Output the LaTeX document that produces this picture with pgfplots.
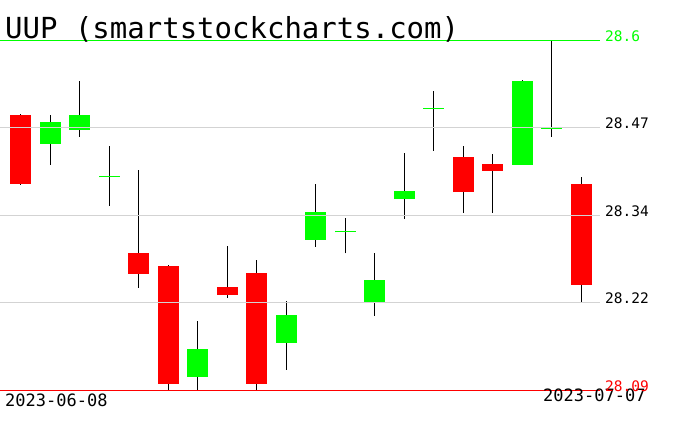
\documentclass[border=0pt]{standalone}
\usepackage{fontspec}
\setmainfont{DejaVu Sans Mono}
\usepackage{pgfplots}
\usepackage{pgfplotstable}
\pgfplotsset{compat=1.18}
\definecolor{gridgray}{RGB}{211,211,211}

% daily candles, x = trading day 1..20
\pgfplotstableread{
x  open    high    low     close
1  28.4907 28.4920 28.3890 28.3902
5  28.2896 28.4106 28.2391 28.2595
6  28.2707 28.2722 28.0900 28.0992
8  28.2401 28.2998 28.2245 28.2289
9  28.2605 28.2794 28.0900 28.0992
16 28.4300 28.4455 28.3484 28.3785
17 28.4193 28.4339 28.3484 28.4096
20 28.3906 28.4004 28.2187 28.2434
}\redtab

\pgfplotstableread{
x  open    high    low     close
2  28.4489 28.4907 28.4183 28.4805
3  28.4693 28.5403 28.4591 28.4907
4  28.4000 28.4455 28.3586 28.4000
7  28.1094 28.1906 28.0900 28.1498
10 28.1589 28.2197 28.1196 28.1993
11 28.3090 28.3902 28.2988 28.3494
12 28.3198 28.3406 28.2892 28.3198
13 28.2187 28.2896 28.1983 28.2503
14 28.3683 28.4353 28.3396 28.3800
15 28.4995 28.5261 28.4387 28.4995
18 28.4183 28.5410 28.4180 28.5403
19 28.4708 28.6000 28.4591 28.4708
}\greentab

% vertical segment from y up by y error, drawn as an error bar only
\pgfplotsset{
    candle/.style 2 args={draw=none, mark=none, forget plot,
        error bars/.cd, y dir=plus, y explicit, error mark=none,
        error bar style={draw=#1, line width=#2}},
}

\begin{document}
\begin{tikzpicture}
\useasboundingbox (0,0) rectangle (676pt,431pt);
\begin{axis}[
    at={(0pt,41pt)}, anchor=south west,
    scale only axis, width=600pt, height=350pt,
    xmin=0.305, xmax=20.64, ymin=28.09, ymax=28.6,
    clip=false, axis on top,
    axis line style={draw=none},
    major tick length=0pt,
    xtick=\empty,
    ytick={28.2175,28.345,28.4725},
    yticklabels={28.22,28.34,28.47},
    extra y ticks={28.09,28.6},
    extra y tick labels={\textcolor{red}{28.09},\textcolor{green}{28.6}},
    extra y tick style={grid=none},
    yticklabel pos=right,
    ymajorgrids,
    major grid style={gridgray, line width=1pt},
    yticklabel style={anchor=base west, inner sep=0pt, xshift=5pt, yshift=-1pt,
        font=\fontsize{14.5}{16}\selectfont},
]

% wicks
\addplot[candle={black}{1pt}]
    table[x=x, y=low, y error expr=\thisrow{high}-\thisrow{low}] {\redtab};
\addplot[candle={black}{1pt}]
    table[x=x, y=low, y error expr=\thisrow{high}-\thisrow{low}] {\greentab};

% bodies
\addplot[candle={red}{21pt}]
    table[x=x, y expr={min(\thisrow{open},\thisrow{close})},
          y error expr={max(abs(\thisrow{close}-\thisrow{open}),0.0015)}] {\redtab};
\addplot[candle={green}{21pt}]
    table[x=x, y expr={min(\thisrow{open},\thisrow{close})},
          y error expr={max(abs(\thisrow{close}-\thisrow{open}),0.0015)}] {\greentab};

% period high / low
\addplot[green, line width=1pt] coordinates {(0.305,28.6) (20.64,28.6)};
\addplot[red, line width=1pt] coordinates {(0.305,28.09) (20.64,28.09)};

\node[anchor=base west, inner sep=0pt, font=\fontsize{29}{32}\selectfont]
    at (rel axis cs:0,1) [xshift=5pt, yshift=2pt] {UUP (smartstockcharts.com)};
\node[anchor=base west, inner sep=0pt, font=\fontsize{17}{19}\selectfont]
    at (rel axis cs:0,0) [xshift=5pt, yshift=-16.7pt] {2023-06-08};
\node[anchor=base east, inner sep=0pt, font=\fontsize{17}{19}\selectfont]
    at (rel axis cs:1,0) [xshift=45.7pt, yshift=-11.7pt] {2023-07-07};
\end{axis}
\end{tikzpicture}
\end{document}
